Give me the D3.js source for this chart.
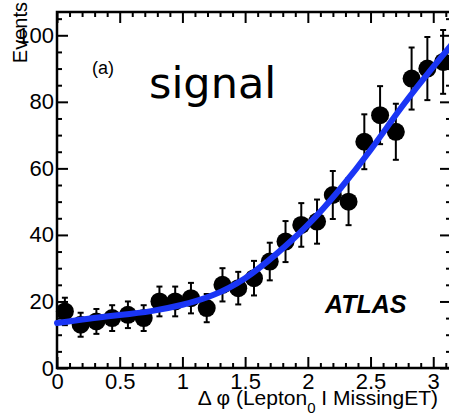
<!DOCTYPE html>
<html><head><meta charset="utf-8">
<script src="https://cdn.jsdelivr.net/npm/d3@7"></script>
<style>body{margin:0;background:#fff}</style>
</head><body>
<script>
// Data
const binCenters = d3.range(25).map(i => (i + 0.5) * Math.PI / 25);
const events = [17,13,14,15,16,15,20,20,21,18,25,24,27,32,38,43,44,52,50,68,76,71,87,90,92];
const fitX = [0,0.25,0.5,0.75,1.0,1.25,1.5,1.75,2.0,2.25,2.5,2.75,3.0,3.1416];
const fitY = [13.5,14.8,15.9,17.1,19.0,22.0,27,34.3,43,53.5,65.5,78.5,90.5,97];
const xMajor = [0,0.5,1,1.5,2,2.5,3];
const xLabels = ["0","0.5","1","1.5","2","2.5","3"];
const yMajor = [0,20,40,60,80,100];
const yLabels = ["0","20","40","60","80","100"];

const W = 449, H = 414;
const svg = d3.select("body").append("svg").attr("width", W).attr("height", H)
  .style("font-family", "'Liberation Sans', Arial, sans-serif");

const x = d3.scaleLinear().domain([0, Math.PI]).range([57, 451]);
const y = d3.scaleLinear().domain([0, 107]).range([368, 12]);

const xMinor = d3.range(0, 3.15, 0.1).filter(v => Math.abs(v*2 - Math.round(v*2)) > 1e-6);
const yMinor = d3.range(0, 106, 5).filter(v => v % 20 !== 0);

function styleAxis(g){
  g.selectAll(".domain").remove();
  g.selectAll(".tick line").attr("stroke","#000").attr("stroke-width",2);
  g.selectAll("text").attr("fill","#000").attr("font-size",22);
}
// bottom
svg.append("g").attr("transform",`translate(0,${y(0)})`)
  .call(d3.axisBottom(x).tickValues(xMajor).tickSize(-11).tickPadding(5).tickFormat((d,i)=>xLabels[i])).call(styleAxis);
svg.append("g").attr("transform",`translate(0,${y(0)})`)
  .call(d3.axisBottom(x).tickValues(xMinor).tickSize(-5).tickFormat("")).call(styleAxis);
// top
svg.append("g").attr("transform",`translate(0,${y(107)})`)
  .call(d3.axisTop(x).tickValues(xMajor).tickSize(-11).tickFormat("")).call(styleAxis);
svg.append("g").attr("transform",`translate(0,${y(107)})`)
  .call(d3.axisTop(x).tickValues(xMinor).tickSize(-5).tickFormat("")).call(styleAxis);
// left
svg.append("g").attr("transform",`translate(${x(0)},0)`)
  .call(d3.axisLeft(y).tickValues(yMajor).tickSize(-11).tickPadding(3).tickFormat((d,i)=>yLabels[i])).call(styleAxis);
svg.append("g").attr("transform",`translate(${x(0)},0)`)
  .call(d3.axisLeft(y).tickValues(yMinor).tickSize(-5).tickFormat("")).call(styleAxis);
// right
svg.append("g").attr("transform",`translate(${x(Math.PI)},0)`)
  .call(d3.axisRight(y).tickValues(yMajor).tickSize(-11).tickFormat("")).call(styleAxis);
svg.append("g").attr("transform",`translate(${x(Math.PI)},0)`)
  .call(d3.axisRight(y).tickValues(yMinor).tickSize(-5).tickFormat("")).call(styleAxis);

// frame
svg.append("rect").attr("x",x(0)).attr("y",y(107)).attr("width",x(Math.PI)-x(0)).attr("height",y(0)-y(107))
  .attr("fill","none").attr("stroke","#000").attr("stroke-width",2.5);

// data points with error bars
const pts = svg.append("g");
events.forEach((v,i)=>{
  const cx = x(binCenters[i]);
  const e = Math.sqrt(v);
  pts.append("line").attr("x1",cx).attr("x2",cx).attr("y1",y(v-e)).attr("y2",y(v+e)).attr("stroke","#000").attr("stroke-width",2);
  [v-e, v+e].forEach(t=>pts.append("line").attr("x1",cx-3).attr("x2",cx+3).attr("y1",y(t)).attr("y2",y(t)).attr("stroke","#000").attr("stroke-width",2));
  pts.append("circle").attr("cx",cx).attr("cy",y(v)).attr("r",9).attr("fill","#000");
});

// fit curve
const line = d3.line().x(d=>x(d[0])).y(d=>y(d[1])).curve(d3.curveNatural);
svg.append("path").datum(fitX.map((v,i)=>[v,fitY[i]])).attr("d",line)
  .attr("fill","none").attr("stroke","#1a35f5").attr("stroke-width",6).attr("stroke-linecap","round");

// texts
svg.append("text").attr("transform","translate(27,2) rotate(-90)").attr("text-anchor","end")
  .attr("font-size",20).text("Events");
svg.append("text").attr("x",92).attr("y",74).attr("font-size",18).text("(a)");
svg.append("text").attr("x",149).attr("y",98).attr("font-size",43)
  .style("font-family","'DejaVu Sans', sans-serif").text("signal");
svg.append("text").attr("x",325).attr("y",313).attr("font-size",25).attr("font-weight","bold")
  .attr("font-style","italic").text("ATLAS");
const xt = svg.append("text").attr("x",438).attr("y",405).attr("text-anchor","end").attr("font-size",21);
xt.append("tspan").text("Δ φ (Lepton");
xt.append("tspan").attr("font-size",15).attr("dy",8).text("0");
xt.append("tspan").attr("dy",-8).text(" I MissingET)");
</script>
</body></html>
